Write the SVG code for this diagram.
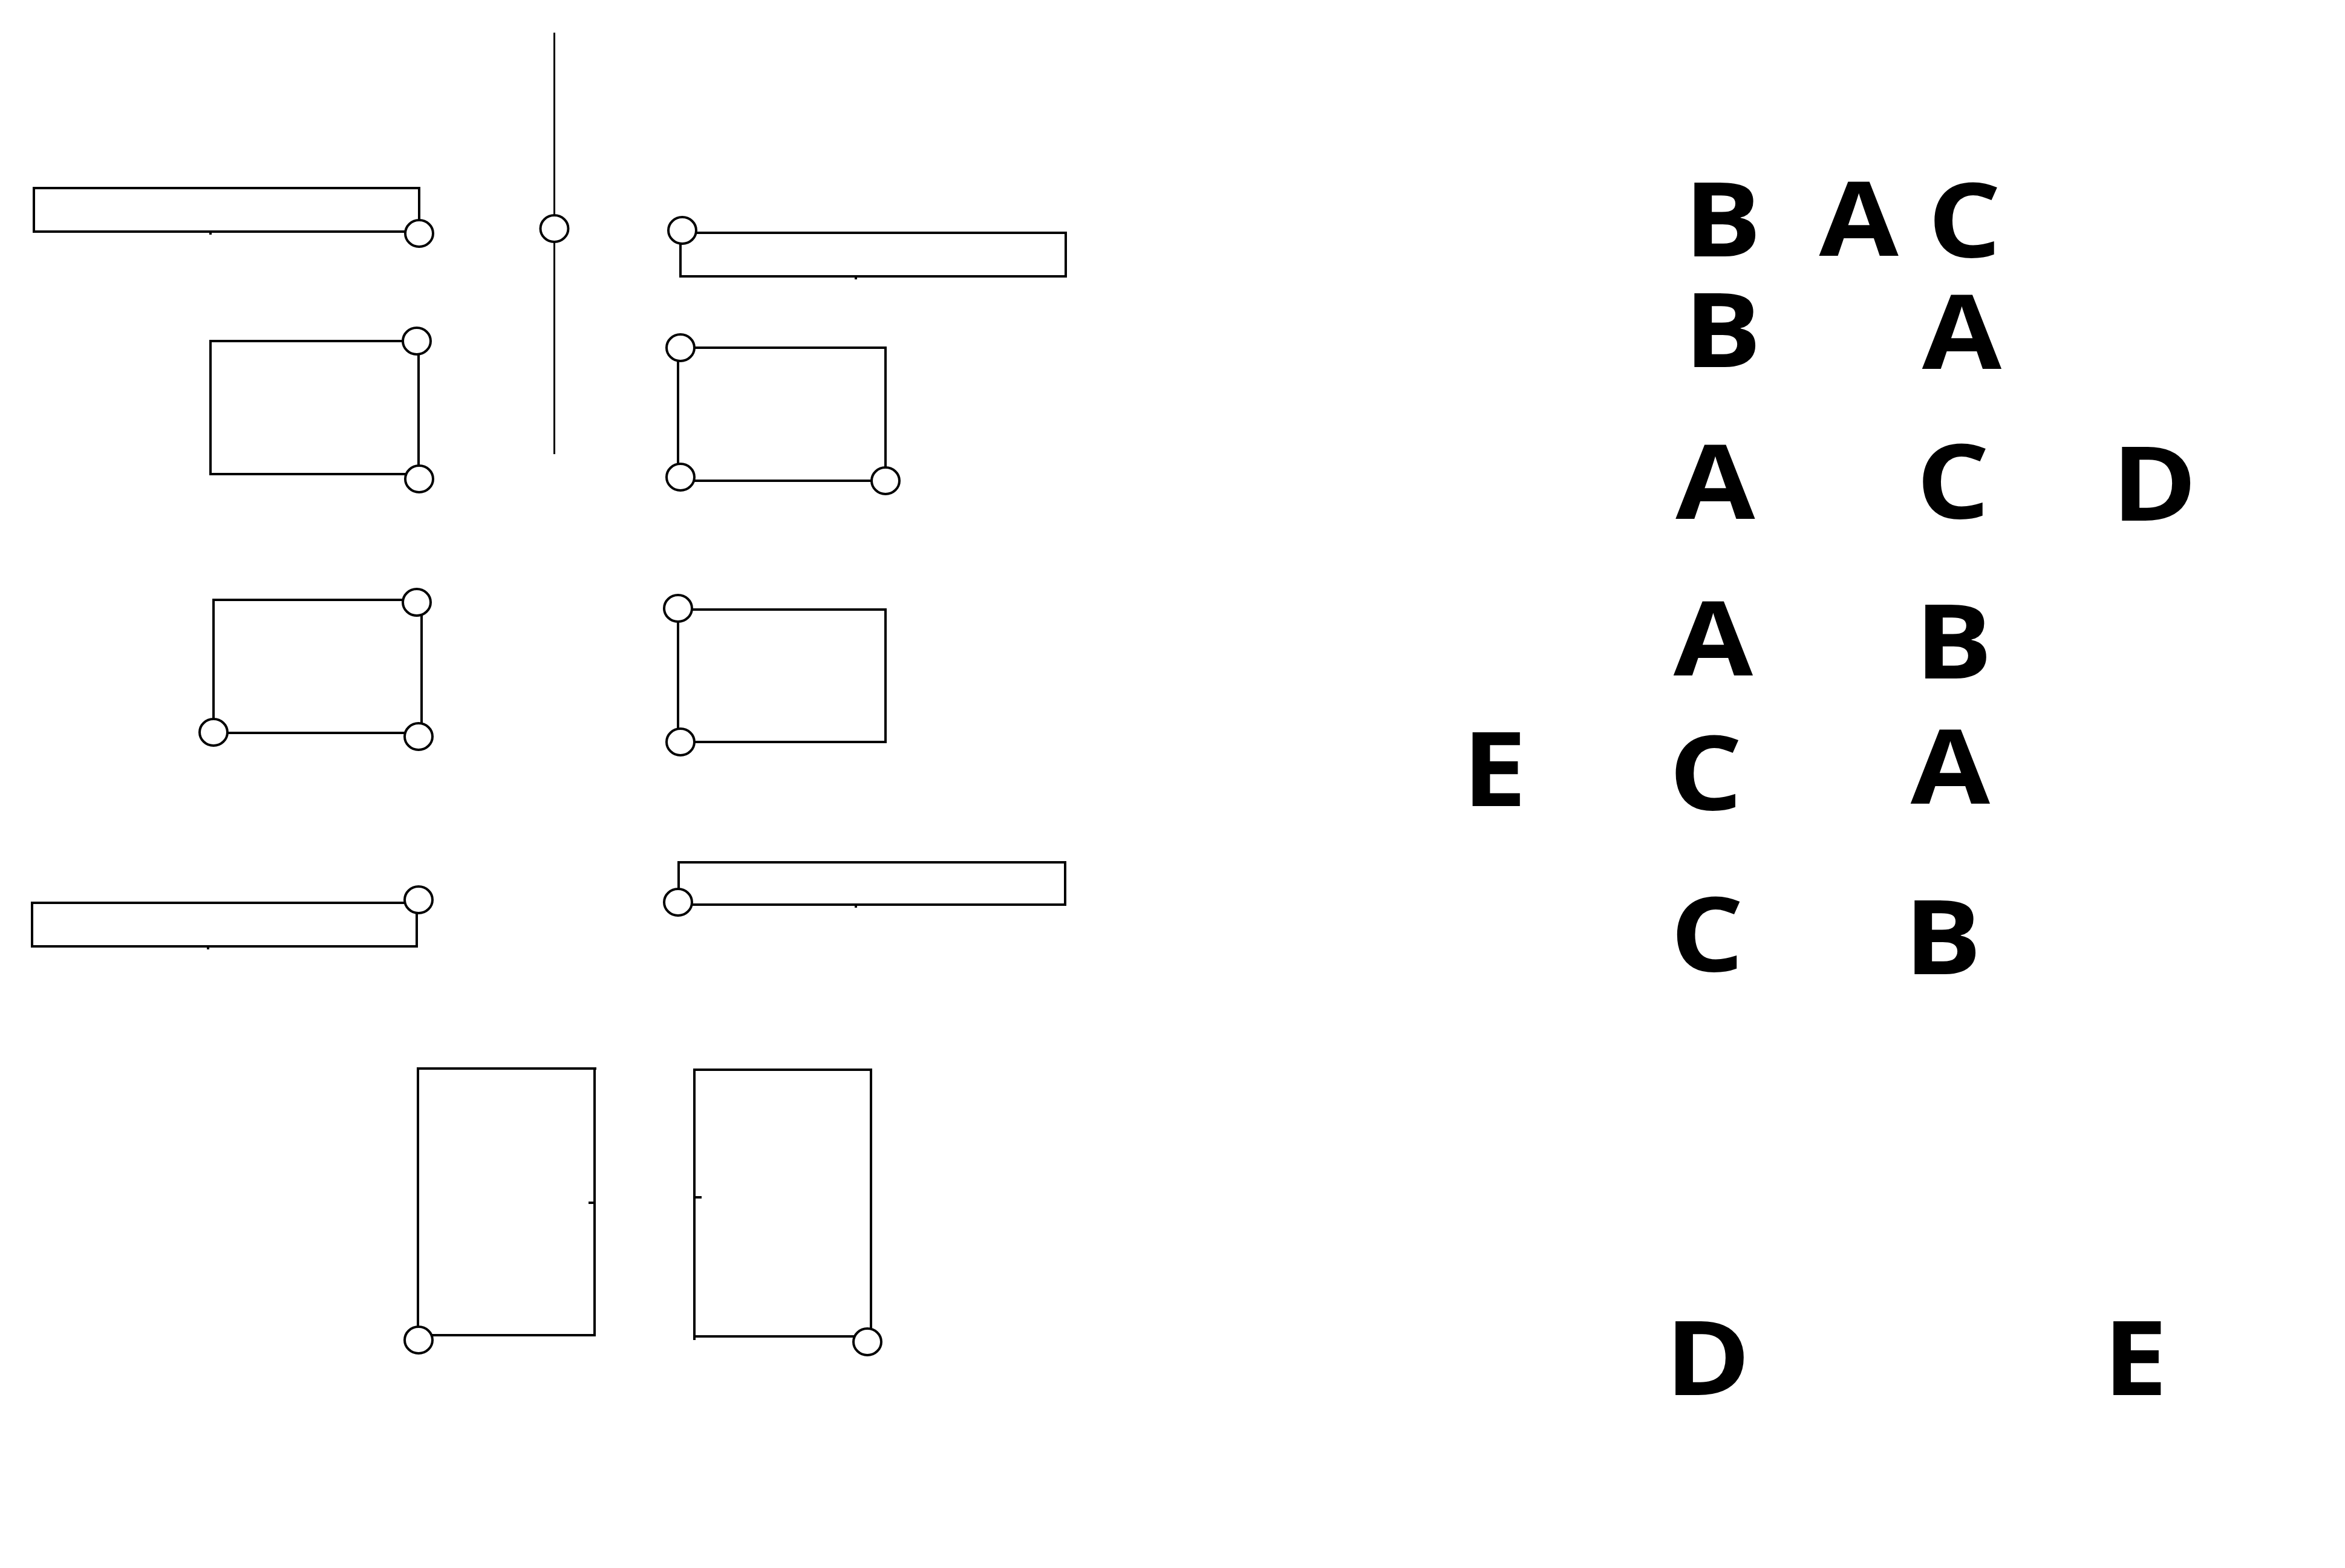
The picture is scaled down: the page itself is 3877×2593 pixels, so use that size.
<svg xmlns="http://www.w3.org/2000/svg" width="3877" height="2593" viewBox="0 0 3877 2593">
<style>
.ln{fill:none;stroke:#000;stroke-width:4;stroke-linecap:butt}
.pt{fill:#fff;stroke:#000;stroke-width:4}
.lt{font-family:"Open Sans","Noto Sans","DejaVu Sans",sans-serif;font-weight:700;font-size:170px;fill:#000;text-anchor:middle}
</style>
<rect width="3877" height="2593" fill="#fff"/>
<g id="connectors">
  <path class="ln" style="stroke-width:3" d="M916.5,54 V751"/>
</g>
<g id="bar1">
  <path class="ln" d="M693,386 V311 H56 V383 H693"/>
  <path class="ln" d="M348,383 v5"/>
  <ellipse class="pt" cx="693" cy="386" rx="23" ry="22"/>
</g>
<g id="pivot">
  <ellipse class="pt" cx="916.5" cy="378" rx="23" ry="22"/>
</g>
<g id="bar3">
  <path class="ln" d="M1128,385 H1762 V457 H1125 V381"/>
  <path class="ln" d="M1415,457 v5"/>
  <ellipse class="pt" cx="1128" cy="381" rx="23" ry="22"/>
</g>
<g id="rect2">
  <path class="ln" d="M689,564 H348 V784 H693 M692,564 V792"/>
  <ellipse class="pt" cx="689" cy="564" rx="23" ry="22"/>
  <ellipse class="pt" cx="693" cy="792" rx="23" ry="22"/>
</g>
<g id="rect4">
  <path class="ln" d="M1125,575 H1464 V795 H1125 M1121,575 V789"/>
  <ellipse class="pt" cx="1125" cy="575" rx="23" ry="22"/>
  <ellipse class="pt" cx="1125" cy="789" rx="23" ry="22"/>
  <ellipse class="pt" cx="1464" cy="795" rx="23" ry="22"/>
</g>
<g id="rect5">
  <path class="ln" d="M689,992 H353 V1211 M353,1212 H692 M697,996 V1218"/>
  <ellipse class="pt" cx="689" cy="996" rx="23" ry="22"/>
  <ellipse class="pt" cx="353" cy="1211" rx="23" ry="22"/>
  <ellipse class="pt" cx="692" cy="1218" rx="23" ry="22"/>
</g>
<g id="rect7">
  <path class="ln" d="M1121,1008 H1464 V1227 H1125 M1121,1008 V1227"/>
  <ellipse class="pt" cx="1121" cy="1006" rx="23" ry="22"/>
  <ellipse class="pt" cx="1125" cy="1227" rx="23" ry="22"/>
</g>
<g id="bar6">
  <path class="ln" d="M692,1493 H53 V1565 H689 V1488"/>
  <path class="ln" d="M344,1565 v5"/>
  <ellipse class="pt" cx="692" cy="1488" rx="23" ry="22"/>
</g>
<g id="bar8">
  <path class="ln" d="M1122,1492 V1426 H1761 V1496 H1121"/>
  <path class="ln" d="M1415,1496 v5"/>
  <ellipse class="pt" cx="1121" cy="1492" rx="23" ry="22"/>
</g>
<g id="rect9">
  <path class="ln" d="M691,2216 V1767 H986 M983,1767 V2210 M983,2208 H692 M973,1989 H983"/>
  <ellipse class="pt" cx="692" cy="2216" rx="23" ry="22"/>
</g>
<g id="rect10">
  <path class="ln" d="M1148,2216 V1769 H1440 V2212 M1148,2210 H1430 M1148,1980 H1160"/>
  <ellipse class="pt" cx="1434" cy="2219" rx="23" ry="22"/>
</g>
<g id="labels" transform="scale(1.12,1)">
  <text class="lt" x="2543" y="424">B</text>
  <text class="lt" x="2744" y="423">A</text>
  <text class="lt" x="2900" y="425">C</text>
  <text class="lt" x="2543" y="607">B</text>
  <text class="lt" x="2896" y="610">A</text>
  <text class="lt" x="2532" y="858">A</text>
  <text class="lt" x="2883" y="857">C</text>
  <text class="lt" x="3180" y="861">D</text>
  <text class="lt" x="2529" y="1117">A</text>
  <text class="lt" x="2884" y="1122">B</text>
  <text class="lt" x="2206" y="1333">E</text>
  <text class="lt" x="2518" y="1339">C</text>
  <text class="lt" x="2879" y="1329">A</text>
  <text class="lt" x="2520" y="1606">C</text>
  <text class="lt" x="2868" y="1611">B</text>
  <text class="lt" x="2521" y="2307">D</text>
  <text class="lt" x="3152" y="2307">E</text>
</g>
</svg>
